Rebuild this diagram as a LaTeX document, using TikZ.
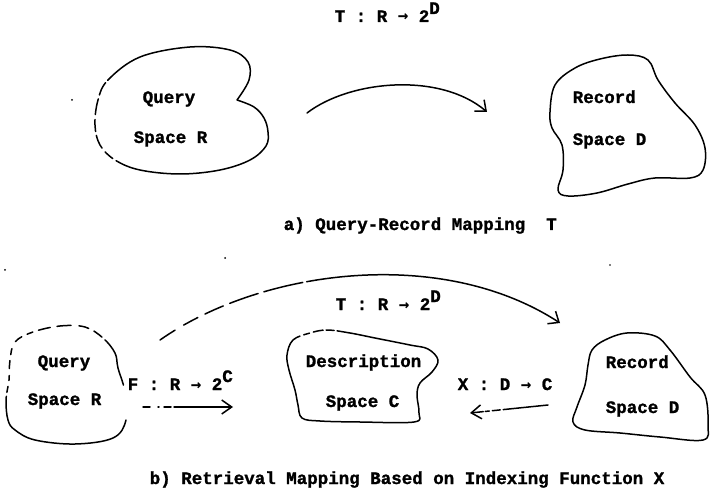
\documentclass[tikz,border=0pt]{standalone}
\usepackage{fontspec}
\setmainfont{Liberation Mono}[BoldFeatures={FakeBold=1.3}]
\newfontfamily\arrowfont{DejaVu Sans Mono}
\usetikzlibrary{arrows.meta}
\newcommand{\raisedtxt}[1]{\raisebox{8pt}{#1}}
\newcommand{\mapto}{{\arrowfont\bfseries →}}
\begin{document}
\begin{tikzpicture}[x=1pt,y=-1pt,
  line width=1.5pt, line cap=round, line join=round,
  lbl/.style={anchor=base west, inner sep=0pt,
    font=\fontsize{17.5}{20}\selectfont\bfseries},
  blob/.style={line width=1.5pt},
  barb/.style={-{Straight Barb[length=9pt,width=15pt,line width=1.5pt]}},
  speck/.style={fill=black, draw=none}]
\useasboundingbox (0,0) rectangle (712,494);

% ---------- a) query-record mapping ----------
\node[lbl] (ttop) at (334,22) {T : R \mapto{} 2\raisedtxt{D}};

% query space R (notched outline, faint on the left)
\draw[blob, dash pattern=on 222pt off 4pt on 10pt off 5pt on 14pt off 4pt on 12pt off 5pt on 16pt off 4pt on 14pt off 3pt on 500pt off 0pt]
  plot[smooth, tension=0.6] coordinates {(237,100) (254,107) (264,118) (268,132) (266,146)
    (250,160) (220,170) (180,174) (140,170) (115,160) (100,145) (95,125) (98,100)
    (108,80) (140,57) (190,47) (230,50) (248,62) (249,80) (237,100)};
\node[lbl] (qa1) at (142,103) {Query};
\node[lbl] (qa2) at (133,143) {Space R};

% record space D
\draw[blob] plot[smooth cycle, tension=0.6] coordinates {(550,112) (555,85) (575,68) (600,59)
  (628,55) (648,60) (658,80) (675,103) (695,125) (705,148) (703,170) (690,178)
  (655,178) (628,184) (597,193) (568,196) (558,190) (563,170) (562,145) (552,128)};
\node[lbl] (ra1) at (572,103) {Record};
\node[lbl] (ra2) at (572,145) {Space D};

% mapping T
\coordinate (ta1) at (307,113);
\coordinate (ta2) at (487,112);
\draw[barb] (ta1) .. controls (350,80) and (440,72) .. (ta2);

\node[lbl] (capa) at (283,230) {a) Query-Record Mapping\ \ T};

% ---------- b) retrieval mapping ----------
% query space R (broken outline)
\draw[blob, dash pattern=on 161pt off 4pt on 6pt off 6pt on 5pt off 7pt on 8pt off 6pt on 6pt off 8pt on 8pt off 6pt on 6pt off 6pt on 12pt off 7pt on 14pt off 8pt on 10pt off 6pt on 10pt off 4pt on 50pt off 40pt]
  plot[smooth cycle, tension=0.6] coordinates {(125,392) (126,420) (113,438) (75,444)
    (35,440) (15,430) (8,420) (6,400) (9,380) (10,360) (15,342) (33,332)
    (60,326) (85,327) (103,338) (115,353) (118,368)};
\node[lbl] (qb1) at (37,367) {Query};
\node[lbl] (qb2) at (27,405) {Space R};

% description space C
\draw[blob, dash pattern=on 8pt off 4pt on 6pt off 4pt on 10pt off 3pt on 8pt off 3pt on 1000pt off 0pt]
  plot[smooth cycle, tension=0.6] coordinates {(287,355) (293,340) (310,333) (327,330)
    (350,333) (375,338) (410,345) (428,349) (438,360) (432,372) (420,383) (417,395)
    (419,413) (414,422) (360,422) (320,421) (302,418) (298,405) (295,390) (289,370)};
\node[lbl] (cb1) at (305,367) {Description};
\node[lbl] (cb2) at (325,407) {Space C};

% record space D
\draw[blob] plot[smooth cycle, tension=0.6] coordinates {(577,407) (585,385) (588,365)
  (592,350) (605,340) (627,333) (655,336) (670,350) (690,377) (705,395) (708,425)
  (703,440) (660,437) (620,433) (585,430) (573,422)};
\node[lbl] (rb1) at (605,368) {Record};
\node[lbl] (rb2) at (605,413) {Space D};

% mapping T over the top
\coordinate (tb1) at (160,340);
\coordinate (tb2) at (560,323);
\draw[barb, dash pattern=on 18pt off 10pt on 16pt off 8pt on 20pt off 7pt on 30pt off 6pt on 40pt off 4pt on 600pt off 0pt]
  (tb1) .. controls (260,270) and (440,245) .. (tb2);
\node[lbl] (tlab) at (335,310) {T : R \mapto{} 2\raisedtxt{D}};

% mapping F
\coordinate (fb1) at (143,407);
\coordinate (fb2) at (233,407);
\draw[-{Straight Barb[length=10pt,width=14pt,line width=1.5pt]}, dash pattern=on 7pt off 8pt on 1pt off 5pt on 7pt off 3pt on 100pt off 0pt] (fb1) -- (fb2);
\node[lbl] (flab) at (127,390) {F : R \mapto{} 2\raisedtxt{C}};

% indexing function X
\coordinate (xb1) at (548,405);
\coordinate (xb2) at (470,413);
\draw[-{Straight Barb[length=10pt,width=14pt,line width=1.5pt]}, dash pattern=on 45pt off 3pt on 8pt off 3pt on 4pt off 2pt on 50pt off 0pt] (xb1) -- (xb2);
\node[lbl] (xlab) at (457,390) {X : D \mapto{} C};

\node[lbl] (capb) at (149,484) {b) Retrieval Mapping Based on Indexing Function X};

% specks
\fill[speck] (72,100) circle (1pt);
\fill[speck] (225,258) circle (1pt);
\fill[speck] (5,270) circle (1pt);
\fill[speck] (610,265) circle (0.8pt);
\end{tikzpicture}
\end{document}
